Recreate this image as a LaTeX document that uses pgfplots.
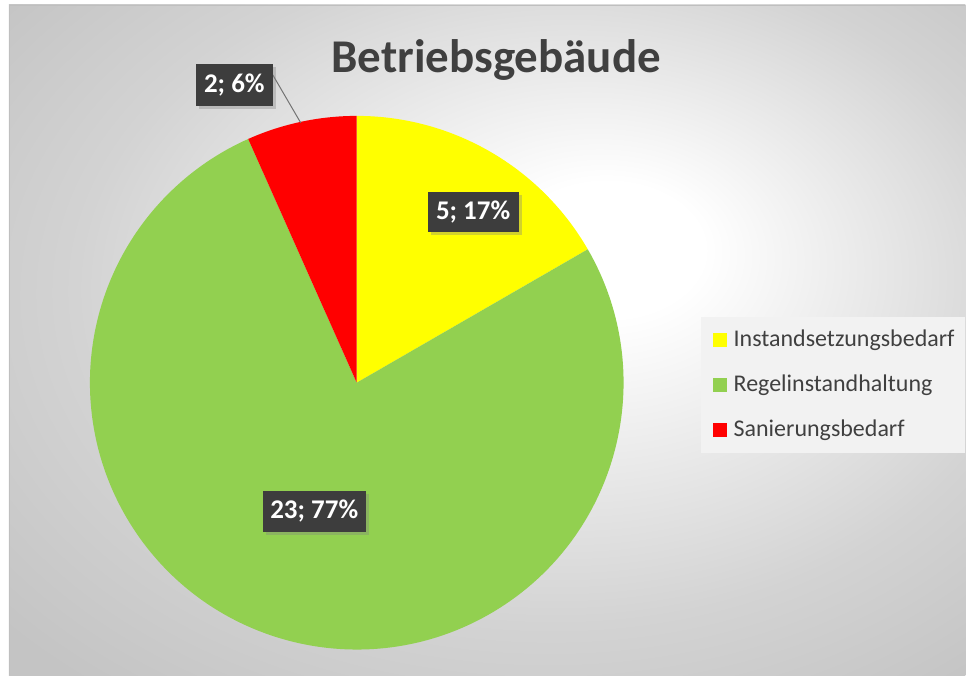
\documentclass[border=0pt]{standalone}
\usepackage{fontspec}
\setmainfont{Carlito}
\usepackage{pgfplots}
\pgfplotsset{compat=1.18}
\usetikzlibrary{shadows}

\definecolor{piyellow}{HTML}{FFFF00}
\definecolor{pigreen}{HTML}{92D050}
\definecolor{pired}{HTML}{FF0000}
\definecolor{txtgray}{HTML}{404040}
\definecolor{lblbox}{HTML}{3D3D3D}
\definecolor{framegray}{HTML}{BFBFBF}
\definecolor{bgmid}{HTML}{D3D3D3}
\definecolor{bgedge}{HTML}{C4C4C4}
% tikz fits the path into the inner 25bp of a shading;
% highlight sits off-centre towards the upper right, like the Excel fill
\pgfdeclareradialshading{bgshade}{\pgfpoint{7bp}{7.5bp}}{color(0bp)=(white); color(5bp)=(white); color(25bp)=(bgmid); color(36bp)=(bgedge); color(50bp)=(bgedge)}

\begin{document}
\begin{tikzpicture}[x=1pt, y=1pt]
% background of the chart area
\shade[shading=bgshade] (9,0) rectangle (966,671);
\draw[framegray, line width=1.5pt] (9.5,0) -- (9.5,670.5) -- (966,670.5);

\begin{axis}[
    hide axis,
    x=1pt, y=1pt,
    xmin=0, xmax=966,
    ymin=0, ymax=676,
    clip=false,
    at={(0,0)}, anchor=south west
]
\path (0,0) rectangle (966,676);

% pie: values 5, 23, 2 (total 30), clockwise from 12 o'clock
\def\total{30}
\xdef\curang{90}
\foreach \v/\col in {5/piyellow,23/pigreen,2/pired}{
  \pgfmathsetmacro\endang{\curang-360*\v/\total}
  \edef\temp{\noexpand\fill[\col] (357,293) -- ({357+267*cos(\curang)},{293+267*sin(\curang)}) arc[start angle=\curang, end angle=\endang, radius=267pt] -- cycle;}
  \temp
  \xdef\curang{\endang}
}

% data labels
\tikzset{lbl/.style={fill=lblbox, text=white, font=\bfseries\fontsize{27}{32}\selectfont,
  inner sep=0pt, drop shadow={shadow xshift=3pt, shadow yshift=-3pt, opacity=0.35}}}
\draw[black!55, line width=1pt] (273,601) -- (301,553);
\node[lbl, minimum width=91pt, minimum height=40pt] at (473.5,464) {5; 17\%};
\node[lbl, minimum width=103pt, minimum height=41pt] at (314.5,164.5) {23; 77\%};
\node[lbl, minimum width=77pt, minimum height=42pt] at (234.5,591) {2; 6\%};

% title
\node[anchor=base, font=\bfseries\fontsize{47}{56}\selectfont, text=txtgray] at (496.5,603) {Betriebsgebäude};

% legend
\fill[black!5] (702,223) rectangle (966,359);
\fill[piyellow] (714,329) rectangle (728,343);
\fill[pigreen] (714,284) rectangle (728,298);
\fill[pired] (714,239) rectangle (728,253);
\tikzset{leg/.style={anchor=base west, inner sep=0pt, text=txtgray, font=\fontsize{24}{28}\selectfont}}
\node[leg] at (734,329) {Instandsetzungsbedarf};
\node[leg] at (734,284) {Regelinstandhaltung};
\node[leg] at (734,239) {Sanierungsbedarf};
\end{axis}
\end{tikzpicture}
\end{document}
